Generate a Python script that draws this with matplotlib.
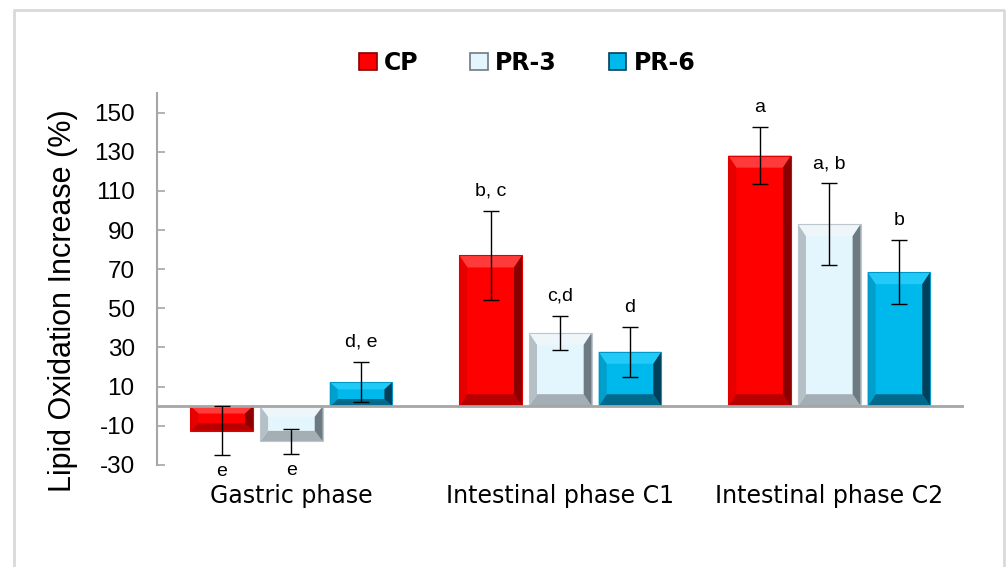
import matplotlib.pyplot as plt
import numpy as np
from matplotlib.patches import Polygon, Patch, Rectangle
from matplotlib.lines import Line2D

# Donnees
phases = ['Gastric phase', 'Intestinal phase C1', 'Intestinal phase C2']
series = ['CP', 'PR-3', 'PR-6']
cp_vals = [-12.5, 77.0, 128.0]
pr3_vals = [-18.0, 37.5, 93.0]
pr6_vals = [12.3, 27.8, 68.5]
cp_err = [12.5, 22.7, 14.6]
pr3_err = [6.4, 8.8, 20.8]
pr6_err = [10.3, 12.8, 16.4]
cp_lettres = ['e', 'b, c', 'a']
pr3_lettres = ['e', 'c,d', 'a, b']
pr6_lettres = ['d, e', 'd', 'b']
yticks = [-30, -10, 10, 30, 50, 70, 90, 110, 130, 150]

# Styles : face, haut, gauche, droite, bas, contour
couleurs = {
    'CP': ('#FF0000', '#FF3A3A', '#E60000', '#8A0000', '#B80000', '#E00000'),
    'PR-3': ('#E4F6FD', '#EEF6FA', '#B4C0C6', '#6E7A82', '#A3AEB5', '#BCC6CC'),
    'PR-6': ('#00B9EC', '#22CBF7', '#009FCC', '#00405A', '#006A8E', '#0098C8'),
}

fig = plt.figure(figsize=(10.06, 5.67), dpi=100)
ax = fig.add_axes([0.156, 0.180, 0.802, 0.656])
ax.set_xlim(-0.5, 2.5)
ax.set_ylim(-30, 160)

# cadre gris clair autour du graphique
fig.add_artist(Line2D([14/1006, 14/1006, 1004/1006, 1004/1006],
                      [0, 1 - 10/567, 1 - 10/567, 0],
                      transform=fig.transFigure, color='#D9D9D9', lw=2))

x = np.arange(len(phases))
pas = 0.259
largeur = 0.233

# taille du biseau en unites de donnees
px_x = (ax.transData.transform((1, 0))[0] - ax.transData.transform((0, 0))[0])
px_y = (ax.transData.transform((0, 1))[1] - ax.transData.transform((0, 0))[1])
bx = 8 / px_x
by_max = 12 / px_y


def barre_biseau(x0, x1, y0, y1, cols):
    face, haut, gauche, droite, bas, contour = cols
    ax.add_patch(Rectangle((x0, y0), x1 - x0, y1 - y0, facecolor=face,
                           edgecolor='none', zorder=2))
    by = min(by_max, (y1 - y0) * 0.3)
    bxx = min(bx, (x1 - x0) * 0.3)
    ax.add_patch(Polygon([(x0, y1), (x1, y1), (x1 - bxx, y1 - by), (x0 + bxx, y1 - by)],
                         facecolor=haut, edgecolor='none', zorder=2))
    ax.add_patch(Polygon([(x0, y0), (x1, y0), (x1 - bxx, y0 + by), (x0 + bxx, y0 + by)],
                         facecolor=bas, edgecolor='none', zorder=2))
    ax.add_patch(Polygon([(x0, y0), (x0, y1), (x0 + bxx, y1 - by), (x0 + bxx, y0 + by)],
                         facecolor=gauche, edgecolor='none', zorder=2))
    ax.add_patch(Polygon([(x1, y0), (x1, y1), (x1 - bxx, y1 - by), (x1 - bxx, y0 + by)],
                         facecolor=droite, edgecolor='none', zorder=2))
    ax.add_patch(Rectangle((x0, y0), x1 - x0, y1 - y0, facecolor='none',
                           edgecolor=contour, lw=0.8, zorder=2))


donnees = [(cp_vals, cp_err, cp_lettres), (pr3_vals, pr3_err, pr3_lettres),
           (pr6_vals, pr6_err, pr6_lettres)]

for i, nom in enumerate(series):
    vals, errs, lettres = donnees[i]
    xs = x + (i - 1) * pas
    for xc, v, e, lab in zip(xs, vals, errs, lettres):
        barre_biseau(xc - largeur / 2, xc + largeur / 2, min(0, v), max(0, v), couleurs[nom])
        if v < 0:
            ax.annotate(lab, (xc, v - e), xytext=(0, -6), textcoords='offset points',
                        ha='center', va='top', fontsize=14, family='Liberation Sans')
        else:
            ax.annotate(lab, (xc, v + e), xytext=(0, 8), textcoords='offset points',
                        ha='center', va='bottom', fontsize=14, family='Liberation Sans')
    ax.errorbar(xs, vals, yerr=errs, fmt='none', ecolor='black', elinewidth=1,
                capsize=6, capthick=1, zorder=4)

# ligne du zero
ax.axhline(0, color='#A6A6A6', lw=2, zorder=3)

for s in ['top', 'right', 'bottom']:
    ax.spines[s].set_visible(False)
ax.spines['left'].set_color('#A6A6A6')
ax.spines['left'].set_linewidth(1.5)
ax.spines['left'].set_bounds(-30, 160)

ax.set_yticks(yticks)
ax.set_yticklabels([str(t) for t in yticks],
                   fontdict={'family': ['Liberation Sans Narrow', 'Liberation Sans'], 'size': 17.5})
ax.tick_params(axis='y', direction='in', length=6, width=1.2, color='#A6A6A6', pad=16)

ax.set_xticks(x)
ax.set_xticklabels(phases, fontsize=17, family='DejaVu Sans')
ax.tick_params(axis='x', length=0, pad=14)

ax.set_ylabel('Lipid Oxidation Increase (%)', fontsize=22, family='Liberation Sans')
ax.yaxis.set_label_coords(-0.098, 0.443)

handles = [Patch(facecolor=couleurs[n][0], edgecolor=couleurs[n][3], linewidth=1.2) for n in series]
fig.legend(handles, series, loc='center', bbox_to_anchor=(527 / 1006, 1 - 63 / 567),
           ncol=3, frameon=False, handlelength=0.75, handleheight=0.75, handletextpad=0.3,
           columnspacing=2.2, prop={'family': 'DejaVu Sans', 'weight': 'bold', 'size': 17})

fig.savefig('out.png', dpi=100)
